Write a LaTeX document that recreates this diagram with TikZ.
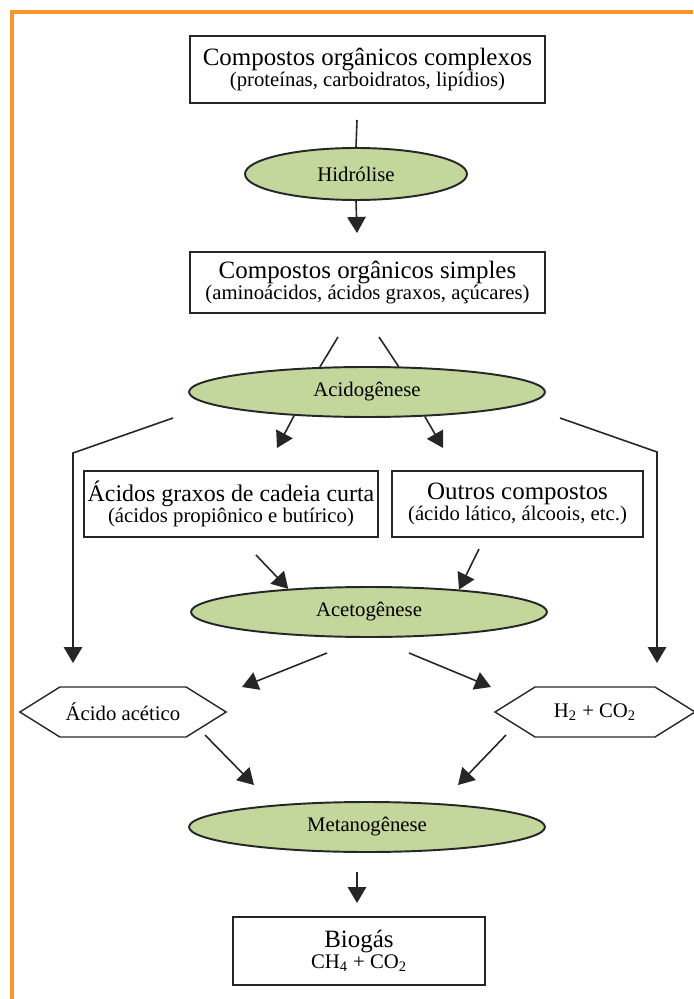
\documentclass[tikz,border=0pt]{standalone}
\usepackage{fontspec}
\setmainfont{Liberation Serif}
\usetikzlibrary{shapes.geometric,shapes.symbols,arrows.meta}
\definecolor{fasegreen}{RGB}{195,214,155}
\definecolor{moldura}{RGB}{247,150,42}
\newcommand{\tgrande}{\fontsize{14.2}{16}\selectfont}
\newcommand{\tpeq}{\fontsize{11.8}{14}\selectfont}
\tikzset{
  caixa/.style={rectangle, draw=black!85, line width=0.9pt, fill=white, align=center, inner sep=1pt},
  fase/.style={ellipse, draw=black!85, line width=1.1pt, fill=fasegreen, font=\tpeq,
               inner sep=1pt, minimum width=7.12cm, minimum height=1cm},
  produto/.style={signal, signal to=west and east, draw=black!85, line width=0.8pt, font=\tpeq,
                  minimum height=1cm, signal pointer angle=64},
  lin/.style={line width=0.9pt, draw=black!85},
  arr/.style={lin, -{Triangle[length=0.32cm, width=0.37cm]}},
}
\begin{document}
\begin{tikzpicture}[x=0.02cm, y=-0.02cm]
\useasboundingbox (0,0) rectangle (693,999);

% Moldura
\draw[moldura, line width=2.2pt] (12,999) -- (12,12) -- (693,12);

% Compostos complexos
\node[caixa, minimum width=7.1cm, minimum height=1.34cm] (complexos) at (367.5,69.5)
  {{\tgrande Compostos orgânicos complexos}\\{\tpeq (proteínas, carboidratos, lipídios)}};

% Hidrolise
\node[fase, minimum width=4.44cm, minimum height=1.04cm] (hidrolise) at (356,174) {Hidrólise};

% Compostos simples
\node[caixa, minimum width=7.1cm, minimum height=1.22cm] (simples) at (367.5,282.5)
  {{\tgrande Compostos orgânicos simples}\\{\tpeq (aminoácidos, ácidos graxos, açúcares)}};

% Acidogenese
\node[fase] (acidogenese) at (367,392) {Acidogênese};

% Acidos graxos e outros compostos
\node[caixa, minimum width=5.88cm, minimum height=1.32cm] (graxos) at (231,504)
  {{\fontsize{13.6}{16}\selectfont Ácidos graxos de cadeia curta}\\{\tpeq (ácidos propiônico e butírico)}};
\node[caixa, minimum width=5.02cm, minimum height=1.32cm] (outros) at (517.5,504)
  {{\tgrande Outros compostos}\\{\tpeq (ácido lático, álcoois, etc.)}};

% Acetogenese
\node[fase] (acetogenese) at (369,612) {Acetogênese};

% Acido acetico e H2 + CO2
\node[produto, minimum width=4.04cm] (acetico) at (123,712) {Ácido acético};
\node[produto, minimum width=4.0cm] (hidrogenio) at (595,712) {H\textsubscript{2} + CO\textsubscript{2}};

% Metanogenese
\node[fase] (metanogenese) at (367,827) {Metanogênese};

% Biogas
\node[caixa, minimum width=5.04cm, minimum height=1.36cm] (biogas) at (359,951)
  {{\tgrande Biogás}\\{\tpeq CH\textsubscript{4} + CO\textsubscript{2}}};

% pontas soltas das setas
\coordinate (c1) at (357,120);  \coordinate (c2) at (357,233);
\coordinate (a1) at (338,337);  \coordinate (a2) at (379,337);
\coordinate (b1) at (277,448);  \coordinate (b2) at (443,448);
\coordinate (l1) at (173,418);  \coordinate (l2) at (73,453);  \coordinate (l3) at (73,663);
\coordinate (r1) at (560,418);  \coordinate (r2) at (657,452); \coordinate (r3) at (657,663);
\coordinate (g1) at (256,555);  \coordinate (o1) at (479,549);
\coordinate (d1) at (327,653);  \coordinate (d2) at (242,687);
\coordinate (d3) at (409,653);  \coordinate (d4) at (491,687);
\coordinate (e1) at (205,735);  \coordinate (e2) at (254,785);
\coordinate (e3) at (506,735);  \coordinate (e4) at (458,785);
\coordinate (f1) at (357,872);  \coordinate (f2) at (357,903);

% Fluxo
\draw[lin] (c1) -- (hidrolise.north);
\draw[arr] (hidrolise.south) -- (c2);
\draw[lin] (a1) -- (acidogenese.152);
\draw[lin] (a2) -- (acidogenese.39);
\draw[arr] (acidogenese.198) -- (b1);
\draw[arr] (acidogenese.-23) -- (b2);
\draw[arr] (l1) -- (l2) -- (l3);
\draw[arr] (r1) -- (r2) -- (r3);
\draw[arr] (g1) -- (acetogenese.164);
\draw[arr] (o1) -- (acetogenese.14);
\draw[arr] (d1) -- (d2);
\draw[arr] (d3) -- (d4);
\draw[arr] (e1) -- (e2);
\draw[arr] (e3) -- (e4);
\draw[arr] (f1) -- (f2);

\end{tikzpicture}
\end{document}
